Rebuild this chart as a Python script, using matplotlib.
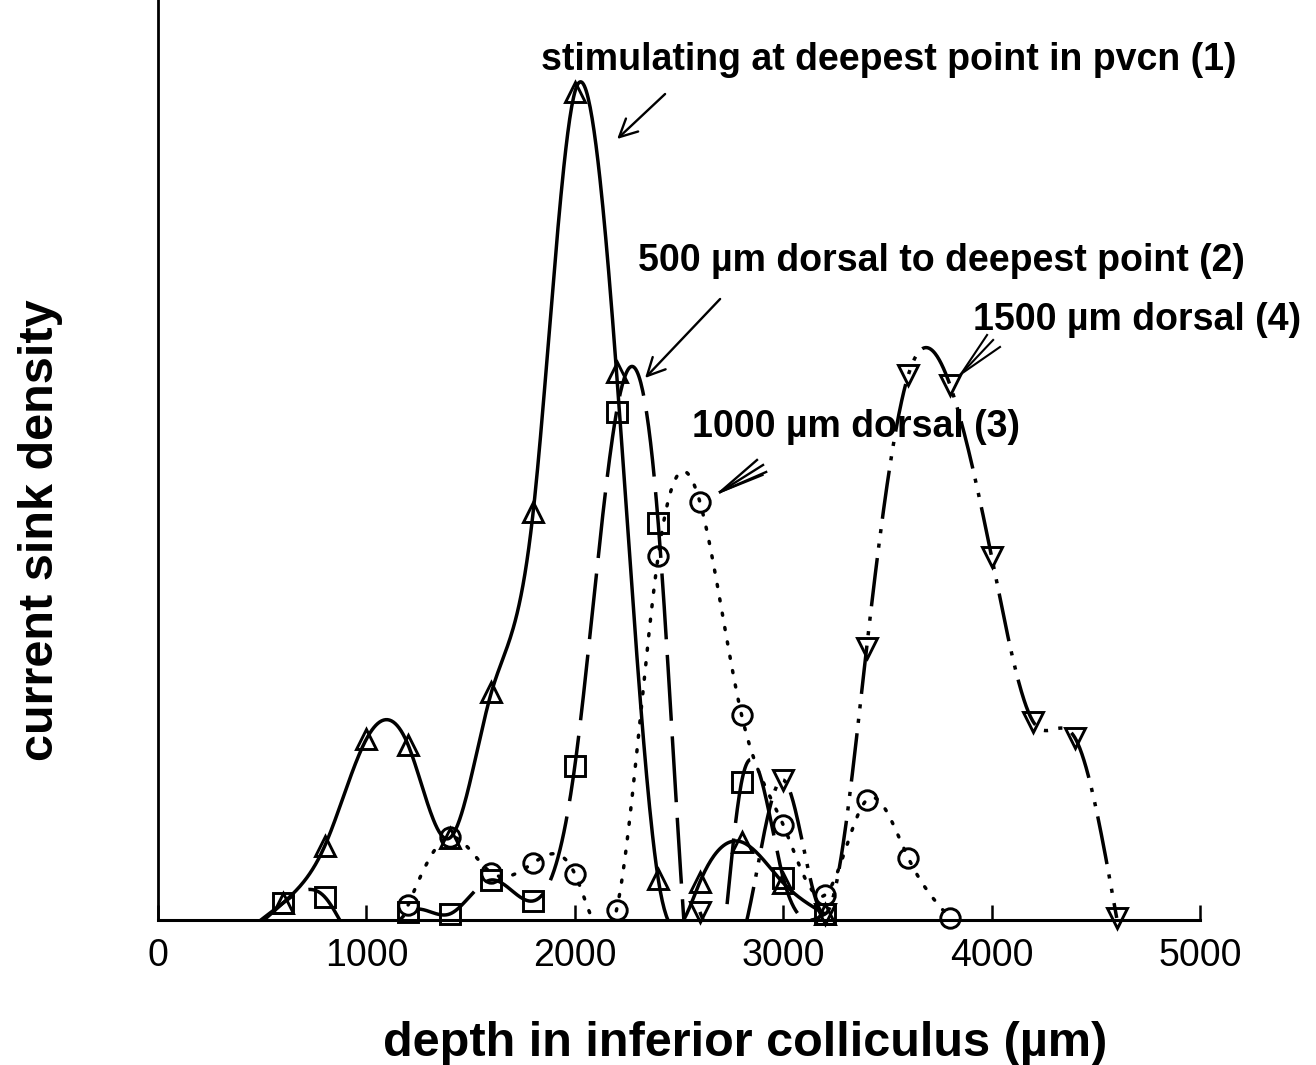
# current sink density vs depth in the inferior colliculus, 4 stimulation sites
import numpy as np
import matplotlib.pyplot as plt

plt.rcParams['font.family'] = ['Liberation Sans', 'DejaVu Sans']

# depth (um) and sink density (arbitrary units, negative = source, hidden below axis)
depth_1 = [400, 600, 800, 1000, 1200, 1400, 1600, 1800, 2000, 2200, 2400, 2600, 2800, 3000, 3200]
sink_1 = [-20, 17, 74, 181, 175, 82, 228, 408, 828, 548, 41, 38, 78, 37, 6]

depth_2 = [400, 600, 800, 1000, 1200, 1400, 1600, 1800, 2000, 2200, 2400, 2600, 2800, 3000, 3200]
sink_2 = [-15, 17, 23, -35, 8, 6, 40, 19, 154, 508, 397, -150, 138, 42, 6]

depth_3 = [1200, 1400, 1600, 1800, 2000, 2200, 2400, 2600, 2800, 3000, 3200, 3400, 3600, 3800]
sink_3 = [15, 83, 47, 57, 46, 10, 364, 418, 205, 95, 25, 120, 62, 2]

depth_4 = [2600, 2800, 3000, 3200, 3400, 3600, 3800, 4000, 4200, 4400, 4600]
sink_4 = [8, -20, 140, 6, 272, 545, 535, 363, 198, 182, 2]

x_ticks = [0, 1000, 2000, 3000, 4000, 5000]


def natural_spline(x, y, n=600):
    # smooth curve through the measured points (natural cubic spline)
    x = np.asarray(x, float)
    y = np.asarray(y, float)
    m = len(x)
    h = np.diff(x)
    A = np.zeros((m, m))
    b = np.zeros(m)
    A[0, 0] = A[-1, -1] = 1
    for i in range(1, m - 1):
        A[i, i - 1] = h[i - 1]
        A[i, i] = 2 * (h[i - 1] + h[i])
        A[i, i + 1] = h[i]
        b[i] = 3 * ((y[i + 1] - y[i]) / h[i] - (y[i] - y[i - 1]) / h[i - 1])
    c = np.linalg.solve(A, b)
    bc = (y[1:] - y[:-1]) / h - h * (2 * c[:-1] + c[1:]) / 3
    d = (c[1:] - c[:-1]) / (3 * h)
    xs = np.linspace(x[0], x[-1], n)
    idx = np.clip(np.searchsorted(x, xs) - 1, 0, m - 2)
    dx = xs - x[idx]
    ys = y[idx] + bc[idx] * dx + c[idx] * dx ** 2 + d[idx] * dx ** 3
    return xs, ys


fig = plt.figure(figsize=(13.16, 10.65), dpi=100)
ax = fig.add_axes([0.1201, 0.1362, 0.7918, 0.8638])

lw = 2.5
series = [
    (depth_1, sink_1, '^', (0, ()), 'butt'),
    (depth_2, sink_2, 's', (0, (19, 4.5)), 'butt'),
    (depth_3, sink_3, 'o', (0, (0.6, 3.6)), 'round'),
    (depth_4, sink_4, 'v', (0, (14, 3, 1.2, 3, 1.2, 3)), 'butt'),
]

for x, y, mk, ls, cap in series:
    xs, ys = natural_spline(x, y)
    line, = ax.plot(xs, ys, color='black', lw=lw, linestyle=ls, zorder=3)
    line.set_dash_capstyle(cap)
    x = np.array(x)
    y = np.array(y)
    keep = y >= 0
    ax.plot(x[keep], y[keep], linestyle='none', marker=mk, ms=14,
            mfc='none', mec='black', mew=2.1, clip_on=False, zorder=4)

ax.set_xlim(0, 5000)
ax.set_ylim(0, 920)
ax.set_xticks(x_ticks)
ax.set_yticks([])
ax.tick_params(axis='x', direction='in', length=11, width=1.8, pad=13, labelsize=27)
ax.spines['top'].set_visible(False)
ax.spines['right'].set_visible(False)
ax.spines['left'].set_linewidth(2)
ax.spines['bottom'].set_linewidth(2.2)

ax.set_xlabel('depth in inferior colliculus (µm)', fontsize=35, fontweight='bold', va='center')
ax.xaxis.set_label_coords(0.563, -0.134)
ax.set_ylabel('current sink density', fontsize=35, fontweight='bold', va='center')
ax.yaxis.set_label_coords(-0.113, 0.424)

# labels for each stimulation site
fs = 27
ax.text(1838, 850, 'stimulating at deepest point in pvcn (1)', fontsize=fs,
        fontweight='bold', ha='left', va='baseline', zorder=1)
ax.text(2303, 649, '500 µm dorsal to deepest point (2)', fontsize=fs,
        fontweight='bold', ha='left', va='baseline', zorder=1)
ax.text(3911, 590, '1500 µm dorsal (4)', fontsize=fs,
        fontweight='bold', ha='left', va='baseline', zorder=1)
ax.text(2562, 483, '1000 µm dorsal (3)', fontsize=fs,
        fontweight='bold', ha='left', va='baseline', zorder=1)

arrow = dict(arrowstyle='->', lw=1.7, color='black', mutation_scale=32,
             shrinkA=0, shrinkB=0)
ax.annotate('', xy=(2203, 781), xytext=(2433, 826), arrowprops=arrow, annotation_clip=False)
ax.annotate('', xy=(2337, 542), xytext=(2697, 621), arrowprops=arrow, annotation_clip=False)

# feathered pointers for (3) and (4)
for tx, ty in [(3978, 585), (4007, 580), (4040, 573)]:
    ax.plot([3853, tx], [546, ty], color='black', lw=1.5, clip_on=False, zorder=3)
for tx, ty in [(2874, 460), (2903, 455), (2918, 448), (2900, 445)]:
    ax.plot([2697, tx], [428, ty], color='black', lw=1.7, clip_on=False, zorder=3)

fig.savefig('out.png', dpi=100, facecolor='white')
